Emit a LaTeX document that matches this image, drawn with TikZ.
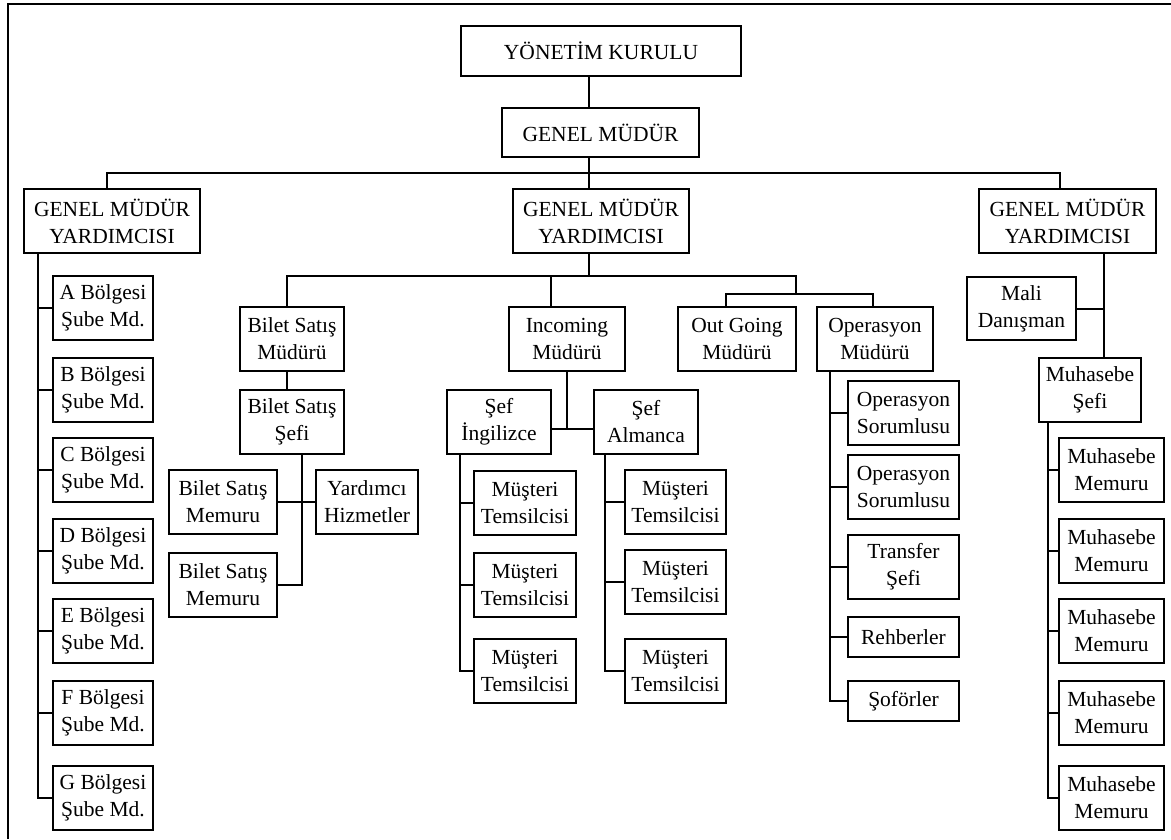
\documentclass[tikz,border=0pt]{standalone}
\usepackage{fontspec}
\setmainfont{Liberation Serif}
\newcommand\orgfont{\fontsize{21.5}{27}\selectfont}
\begin{document}
\begin{tikzpicture}[x=1pt,y=-1pt,
  line width=2pt,
  box/.style={draw, line width=2pt, align=center, inner sep=0pt, font=\orgfont},
  bsize/.style 2 args={minimum width=#1pt, minimum height=#2pt}]
\useasboundingbox (0,0) rectangle (1171,839);

% page frame
\draw (8,839) -- (8,4) -- (1171,4);

% top levels
\node[box, bsize={280}{50}] (yk) at (601,51) {YÖNETİM KURULU};
\node[box, bsize={197}{49}] (gm) at (600.5,132.5) {GENEL MÜDÜR};
\node[box, bsize={176}{64}] (gmyL) at (112,221) {GENEL MÜDÜR\\YARDIMCISI};
\node[box, bsize={176}{64}] (gmyM) at (601,221) {GENEL MÜDÜR\\YARDIMCISI};
\node[box, bsize={177}{64}] (gmyR) at (1067.5,221) {GENEL MÜDÜR\\YARDIMCISI};

% regional branches
\node[box, bsize={100}{64}] (bA) at (103,308) {A Bölgesi\\Şube Md.};
\node[box, bsize={100}{64}] (bB) at (103,390) {B Bölgesi\\Şube Md.};
\node[box, bsize={100}{64}] (bC) at (103,470) {C Bölgesi\\Şube Md.};
\node[box, bsize={100}{64}] (bD) at (103,551) {D Bölgesi\\Şube Md.};
\node[box, bsize={100}{64}] (bE) at (103,631) {E Bölgesi\\Şube Md.};
\node[box, bsize={100}{64}] (bF) at (103,713) {F Bölgesi\\Şube Md.};
\node[box, bsize={100}{64}] (bG) at (103,798) {G Bölgesi\\Şube Md.};

% ticket sales
\node[box, bsize={104}{64}] (bsm) at (292,339) {Bilet Satış\\Müdürü};
\node[box, bsize={104}{64}] (bss) at (292,422) {Bilet Satış\\Şefi};
\node[box, bsize={108}{64}] (bsa) at (223,502) {Bilet Satış\\Memuru};
\node[box, bsize={102}{64}] (yh) at (367,502) {Yardımcı\\Hizmetler};
\node[box, bsize={108}{64}] (bsb) at (223,585) {Bilet Satış\\Memuru};

% incoming
\node[box, bsize={116}{64}] (inc) at (567,339) {Incoming\\Müdürü};
\node[box, bsize={104}{64}] (sefi) at (499,422) {Şef\\İngilizce};
\node[box, bsize={104}{64}] (sefa) at (646,422) {Şef\\Almanca};
\node[box, bsize={102}{64}] (mi1) at (525,503) {Müşteri\\Temsilcisi};
\node[box, bsize={102}{64}] (mi2) at (525,585) {Müşteri\\Temsilcisi};
\node[box, bsize={102}{64}] (mi3) at (525,671) {Müşteri\\Temsilcisi};
\node[box, bsize={101}{64}] (ma1) at (675.5,502) {Müşteri\\Temsilcisi};
\node[box, bsize={101}{64}] (ma2) at (675.5,582) {Müşteri\\Temsilcisi};
\node[box, bsize={101}{64}] (ma3) at (675.5,671) {Müşteri\\Temsilcisi};

% outgoing and operations
\node[box, bsize={118}{64}] (out) at (737,339) {Out Going\\Müdürü};
\node[box, bsize={116}{64}] (ops) at (875,339) {Operasyon\\Müdürü};
\node[box, bsize={111}{64}] (os1) at (903.5,413) {Operasyon\\Sorumlusu};
\node[box, bsize={111}{64}] (os2) at (903.5,487) {Operasyon\\Sorumlusu};
\node[box, bsize={111}{64}] (trs) at (903.5,567) {Transfer\\Şefi};
\node[box, bsize={111}{40}] (reh) at (903.5,637) {Rehberler};
\node[box, bsize={111}{40}] (sof) at (903.5,701) {Şoförler};

% finance
\node[box, bsize={109}{63}] (mali) at (1021.5,308.5) {Mali\\Danışman};
\node[box, bsize={102}{64}] (mus) at (1090,390) {Muhasebe\\Şefi};
\node[box, bsize={105}{64}] (mm1) at (1111.5,470) {Muhasebe\\Memuru};
\node[box, bsize={105}{64}] (mm2) at (1111.5,551) {Muhasebe\\Memuru};
\node[box, bsize={105}{64}] (mm3) at (1111.5,631) {Muhasebe\\Memuru};
\node[box, bsize={105}{64}] (mm4) at (1111.5,713) {Muhasebe\\Memuru};
\node[box, bsize={105}{64}] (mm5) at (1111.5,798) {Muhasebe\\Memuru};

% junction points
\coordinate (bus0) at (589,173);
\coordinate (busM) at (589,276);
\coordinate (busO) at (796,294);
\coordinate (spL) at ([xshift=-74pt]gmyL.south);
\coordinate (spI) at ([xshift=14pt]sefi.south west);
\coordinate (spA) at ([xshift=12pt]sefa.south west);
\coordinate (spO) at ([xshift=14pt]ops.south west);
\coordinate (spR) at ([xshift=36.5pt]gmyR.south);
\coordinate (spM) at ([xshift=10pt]mus.south west);
\coordinate (spB) at ([xshift=10pt]bss.south);
\coordinate (jS) at ([yshift=-7pt]sefi.east);

% top chain
\draw (yk.south -| bus0) -- (gm.north -| bus0);
\draw (gm.south -| bus0) -- (bus0);
\draw ([xshift=-5pt]gmyL.north) -- ([xshift=-5pt]gmyL.north |- bus0)
      -- ([xshift=-7.5pt]gmyR.north |- bus0) -- ([xshift=-7.5pt]gmyR.north);
\draw (bus0) -- (gmyM.north -| bus0);

% left deputy: regional branches
\draw (spL) |- (bG.west);
\foreach \n in {bA,bB,bC,bD,bE,bF}
  \draw (\n.west) -- (\n.west -| spL);

% middle deputy: departments
\draw (gmyM.south -| busM) -- (busM);
\draw ([xshift=-5pt]bsm.north) |- (busO |- busM) -- (busO);
\draw ([xshift=-16pt]inc.north) -- ([xshift=-16pt]inc.north |- busM);
\draw ([xshift=-11pt]out.north) |- (busO) -| ([xshift=-2pt]ops.north);

% ticket sales chain
\draw ([xshift=-5pt]bsm.south) -- ([xshift=-5pt]bss.north);
\draw (spB) |- (bsb.east);
\draw (bsa.east) -- (yh.west);

% incoming chain
\draw (inc.south) -- (inc.south |- jS);
\draw (jS) -- (jS -| sefa.west);
\draw (spI) |- (mi3.west);
\draw (mi1.west) -- (mi1.west -| spI);
\draw (mi2.west) -- (mi2.west -| spI);
\draw (spA) |- (ma3.west);
\draw (ma1.west) -- (ma1.west -| spA);
\draw (ma2.west) -- (ma2.west -| spA);

% operations chain
\draw (spO) |- (sof.west);
\foreach \n in {os1,os2,trs,reh}
  \draw (\n.west) -- (\n.west -| spO);

% right deputy: finance
\draw (spR) -- (spR |- mus.north);
\draw (mali.east) -- (mali.east -| spR);
\draw (spM) |- (mm5.west);
\foreach \n in {mm1,mm2,mm3,mm4}
  \draw (\n.west) -- (\n.west -| spM);
\end{tikzpicture}
\end{document}
